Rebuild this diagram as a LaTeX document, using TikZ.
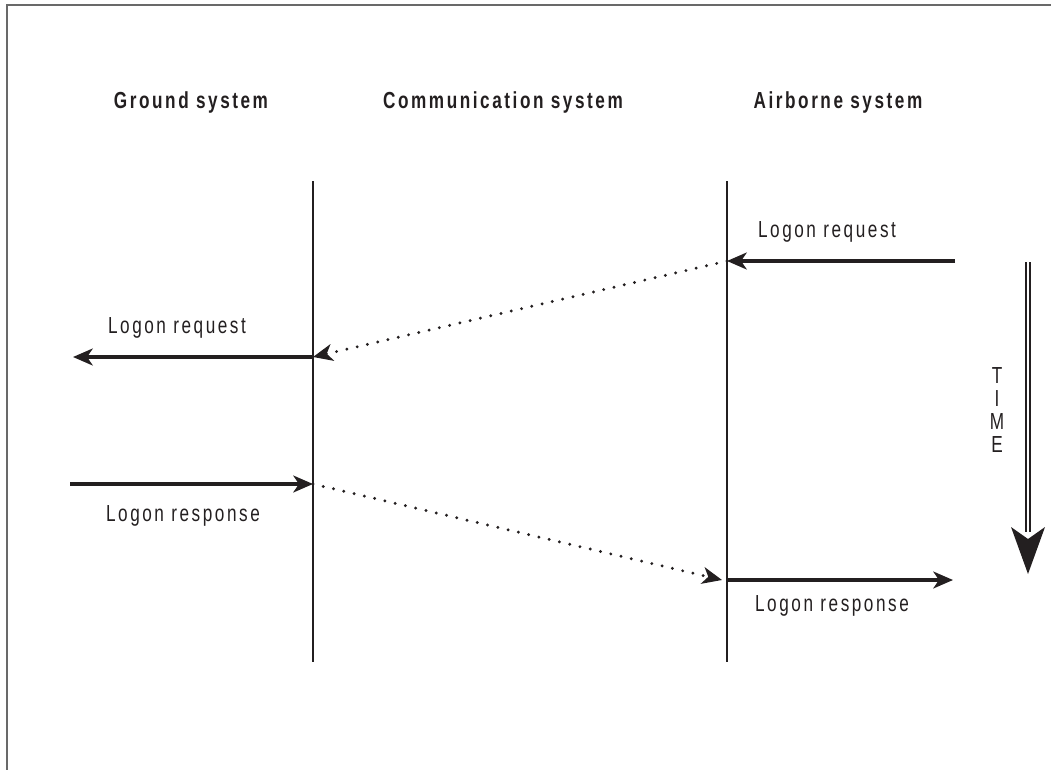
\documentclass[tikz,border=0pt]{standalone}
\usepackage{fontspec}
\setmainfont{Liberation Sans}
\newfontfamily\seqfont[FakeStretch=0.74,LetterSpace=11]{Liberation Sans}
\usetikzlibrary{calc,arrows.meta,positioning}
\usepackage{xcolor}
\definecolor{ink}{RGB}{35,31,32}
\definecolor{frame}{RGB}{105,105,105}

\begin{document}
\begin{tikzpicture}[%
    x=0.025cm, y=-0.025cm,%
    every node/.style={font=\seqfont\fontsize{16.5}{19}\selectfont, text=ink, inner sep=0pt},%
    head/.style={font=\seqfont\bfseries\fontsize{16.5}{19}\selectfont},%
    lifeline/.style={draw=ink, line width=1.1pt},%
    msg/.style={draw=ink, line width=2.3pt, -{Stealth[length=14pt,width=12pt,inset=4pt]}},%
    relay/.style={draw=ink, line width=2.3pt, line cap=round, dash pattern=on 0pt off 7.5pt,%
      -{Stealth[length=14pt,width=12pt,inset=4pt]}}%
  ]
  \useasboundingbox (0,0) rectangle (1051,769);%
  \def\top{181}%
  \def\bot{662}%

  % Frame (only its top and left side lie on the page)
  \draw[frame, line width=1.2pt] (7,780) -- (7,5) -- (1060,5);%

  % Coordinates
  \coordinate (G1) at (313,\top);%
  \coordinate (G2) at (313,\bot);%
  \coordinate (A1) at (727,\top);%
  \coordinate (A2) at (727,\bot);%
  \coordinate (reqin) at (955,261);%
  \coordinate (reqa) at (727,261);%
  \coordinate (reqg) at (313,357);%
  \coordinate (reqout) at (73,357);%
  \coordinate (rspin) at (70,484);%
  \coordinate (rspg) at (313,484);%
  \coordinate (rspa) at (722,580);%
  \coordinate (rspa0) at (727,580);%
  \coordinate (rspout) at (953,580);%
  \coordinate (T1) at (1028,262);%
  \coordinate (T2) at (1028,532);%

  % Nodes
  \node[head] (ground) at (191,102) {Ground system};%
  \node[head] (comm) at (503,102) {Communication system};%
  \node[head] (air) at (838,102) {Airborne system};%
  \node (reqair) at (827,232) {Logon request};%
  \node (reqgnd) at (177,328) {Logon request};%
  \node (rspgnd) at (183,516) {Logon response};%
  \node (rspair) at (832,606) {Logon response};%
  \node[align=center, font=\seqfont\fontsize{16.5}{16.5}\selectfont] (time) at (997,410) {T\\I\\M\\E};%

  % Lines
  \draw[lifeline] (G1) -- (G2);%
  \draw[lifeline] (A1) -- (A2);%
  \draw[msg] (reqin) -- (reqa);%
  \draw[relay] (reqa) -- (reqg);%
  \draw[msg] (reqg) -- (reqout);%
  \draw[msg] (rspin) -- (rspg);%
  \draw[relay] (rspg) -- (rspa);%
  \draw[msg] (rspa0) -- (rspout);%

  % Time arrow
  \draw[ink, line width=1pt, double=white, double distance=1.8pt] (T1) -- (T2);%
  \fill[ink] ($(T2)+(-17,-5)$) -- (1028,574) -- ($(T2)+(17,-5)$) -- (1028,539) -- cycle;%
\end{tikzpicture}
\end{document}
